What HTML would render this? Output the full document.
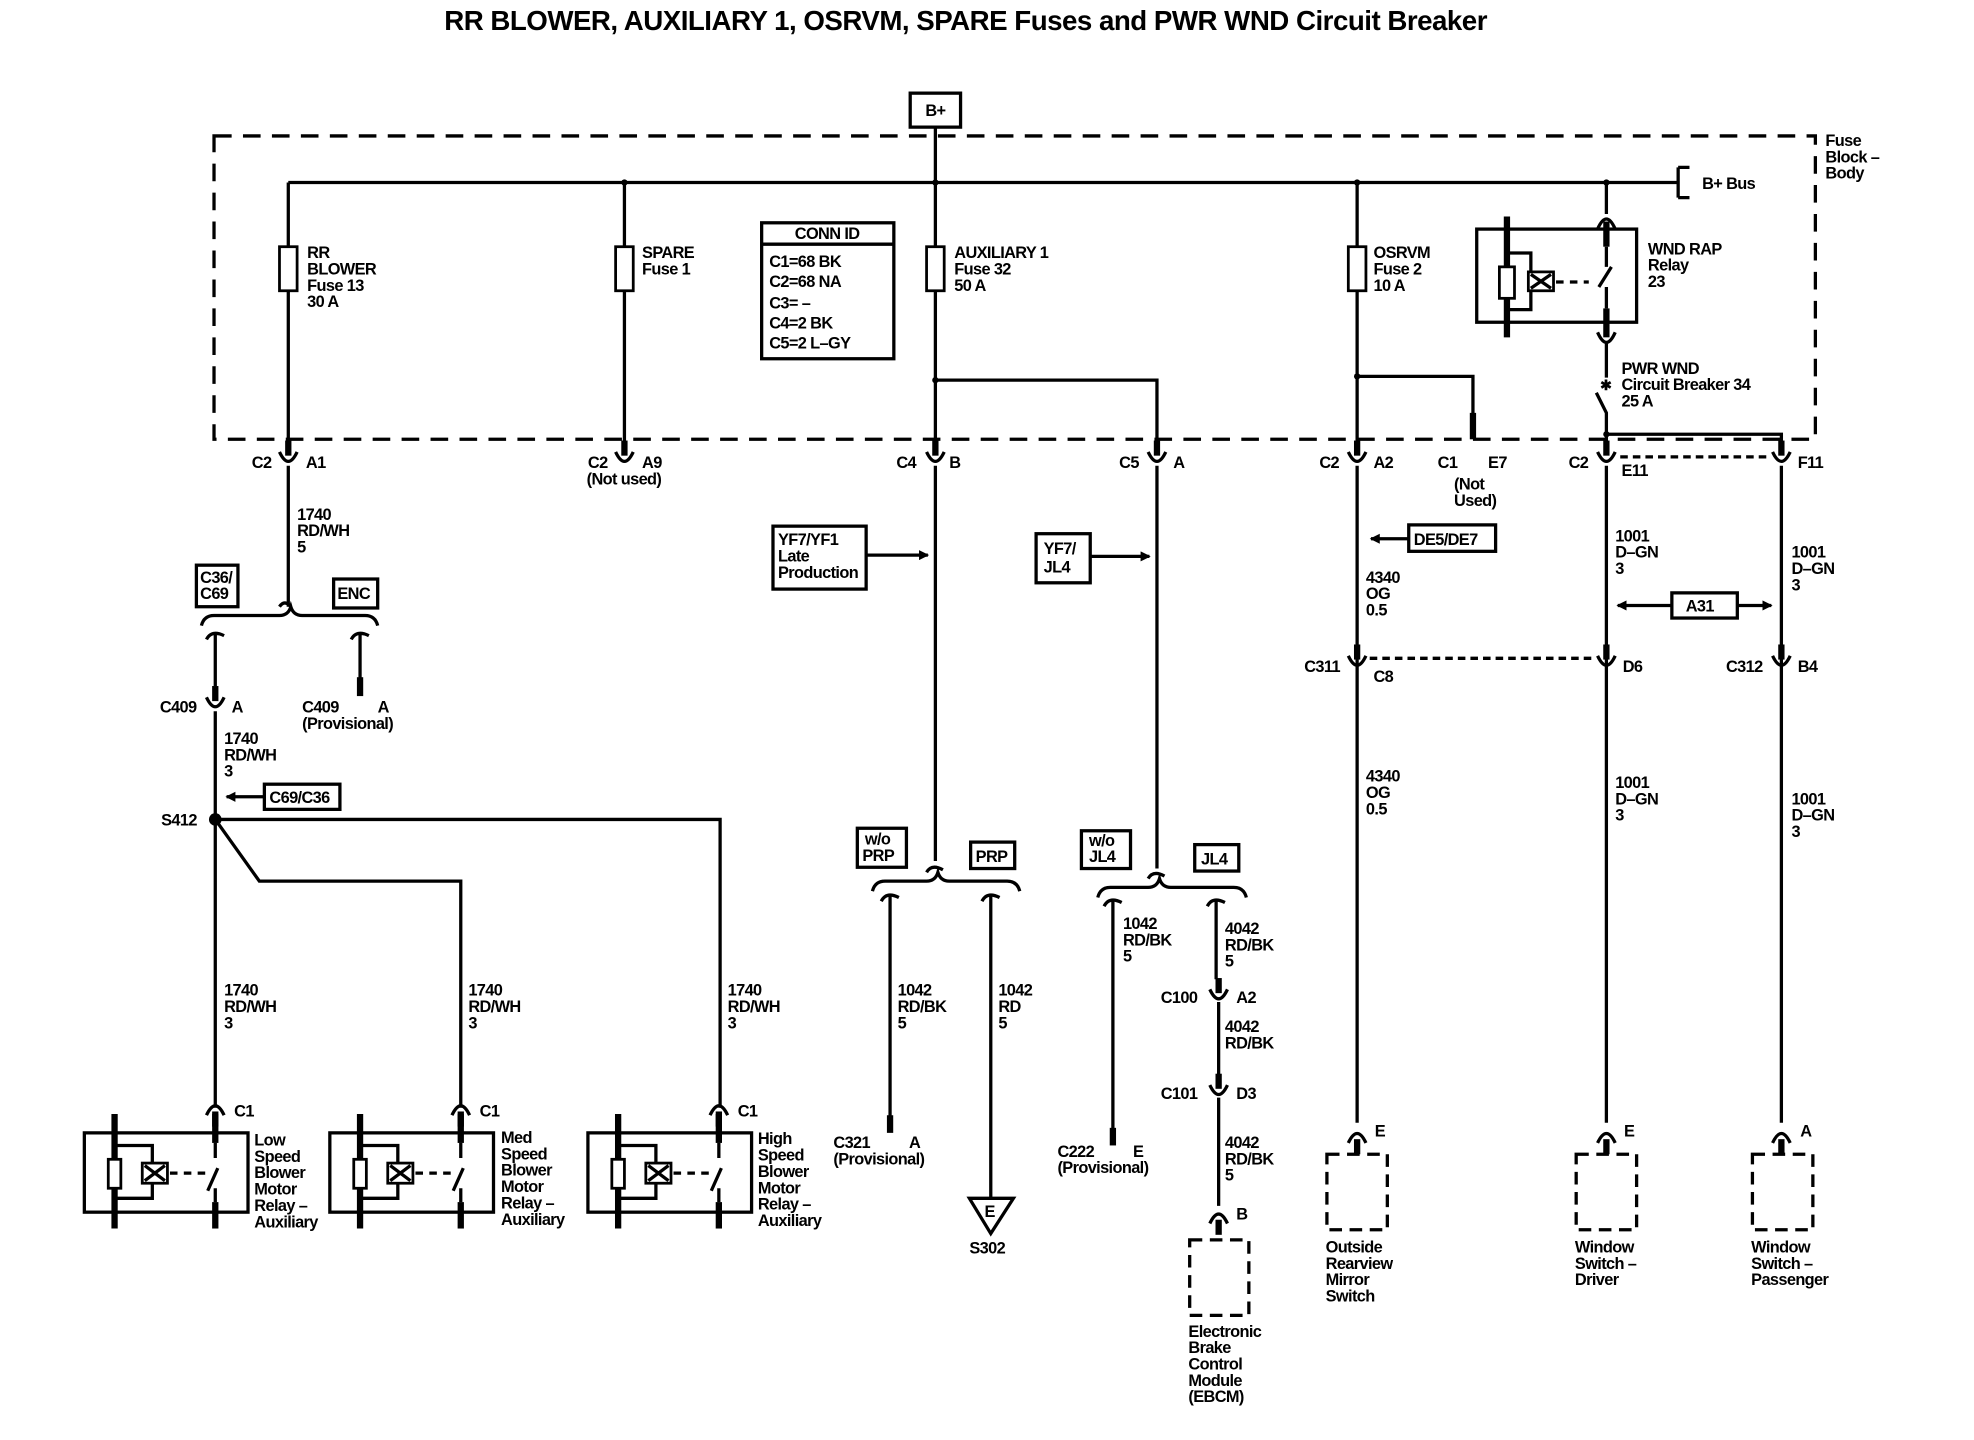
<!DOCTYPE html>
<html><head><meta charset="utf-8"><style>
html,body{margin:0;padding:0;background:#fff;}
svg{display:block;}
text{font-family:"Liberation Sans",Arial,sans-serif;font-size:13px;font-weight:bold;letter-spacing:-0.5px;fill:#000;}
.w{stroke:#000;stroke-width:2.6;fill:none;}
.th{stroke:#000;stroke-width:5;fill:none;}
.b{stroke:#000;stroke-width:2.2;fill:#fff;}
</style></head><body>
<svg width="1974" height="1440" viewBox="0 0 1568 1144" preserveAspectRatio="none" xmlns="http://www.w3.org/2000/svg">
<defs>
<g id="cu"><line x1="0" y1="-15" x2="0" y2="-3" class="th"/><path d="M-7,-6 Q0,9 7,-6" class="w"/></g>
<g id="ca"><line x1="0" y1="3" x2="0" y2="15" class="th"/><path d="M-7,6 Q0,-9 7,6" class="w"/></g>
<marker id="ar" markerWidth="8" markerHeight="8" refX="7" refY="4" orient="auto" markerUnits="userSpaceOnUse"><path d="M0,0 L8,4 L0,8 z" fill="#000"/></marker>
<g id="rl">
<rect x="0" y="0" width="130" height="63" class="w"/>
<line x1="24" y1="-15" x2="24" y2="76" class="th"/>
<line x1="104" y1="-15" x2="104" y2="8" class="th"/>
<line x1="104" y1="55" x2="104" y2="76" class="th"/>
<rect x="19" y="21" width="10" height="23" class="b"/>
<path d="M24,10 H54 V52 H24" class="w"/>
<rect x="46" y="24" width="20" height="16" class="b"/>
<path d="M48,26 L64,38 M48,38 L64,26" class="w" stroke-width="2"/>
<path d="M68,32 H96" class="w" stroke-dasharray="6,5"/>
<path d="M104,8 V20 M104,44 V55 M98,46 L106,28" class="w"/>
</g>
</defs>
<rect width="1568" height="1144" fill="#fff"/>
<text x="767" y="24" text-anchor="middle" style="font-size:22px;letter-spacing:-0.4px">RR BLOWER, AUXILIARY 1, OSRVM, SPARE Fuses and PWR WND Circuit Breaker</text>

<rect x="723" y="74" width="40" height="27" class="w" stroke-width="3.5"/>
<text x="743" y="92" text-anchor="middle">B+</text>
<rect x="170" y="108" width="1272" height="241" class="w" stroke-dasharray="14,9"/>
<text x="1450" y="116">Fuse</text><text x="1450" y="129">Block –</text><text x="1450" y="142">Body</text>

<path d="M229,145 H1333 M743,101 V360 M1333,133 V157 M1333,133 H1342 M1333,157 H1342" class="w"/>
<text x="1352" y="150">B+ Bus</text>
<g fill="#000"><circle cx="496" cy="145" r="2.5"/><circle cx="743" cy="145" r="2.5"/><circle cx="1078" cy="145" r="2.5"/><circle cx="1276" cy="145" r="2.5"/><circle cx="743" cy="302" r="2.5"/><circle cx="1078" cy="299" r="2.5"/><circle cx="1276" cy="345" r="2.5"/><circle cx="171" cy="651" r="5"/></g>

<path d="M229,145 V360 M496,145 V360 M1078,145 V360 M743,302 H919 V360 M1078,299 H1170 V330" class="w"/>
<line x1="1170" y1="328" x2="1170" y2="349" class="th"/>
<rect x="222" y="196" width="14" height="35" class="b"/>
<rect x="489" y="196" width="14" height="35" class="b"/>
<rect x="736" y="196" width="14" height="35" class="b"/>
<rect x="1071" y="196" width="14" height="35" class="b"/>
<text x="244" y="205">RR</text><text x="244" y="218">BLOWER</text><text x="244" y="231">Fuse 13</text><text x="244" y="244">30 A</text>
<text x="510" y="205">SPARE</text><text x="510" y="218">Fuse 1</text>
<text x="758" y="205">AUXILIARY 1</text><text x="758" y="218">Fuse 32</text><text x="758" y="231">50 A</text>
<text x="1091" y="205">OSRVM</text><text x="1091" y="218">Fuse 2</text><text x="1091" y="231">10 A</text>

<rect x="605" y="177" width="105" height="108" class="w"/>
<line x1="605" y1="194" x2="710" y2="194" class="w"/>
<text x="657" y="190" text-anchor="middle">CONN ID</text>
<text x="611" y="212">C1=68 BK</text><text x="611" y="228">C2=68 NA</text><text x="611" y="245">C3= –</text><text x="611" y="261">C4=2 BK</text><text x="611" y="277">C5=2 L–GY</text>

<rect x="1173" y="182" width="127" height="74" class="w"/>
<line x1="1197" y1="172" x2="1197" y2="268" class="th"/>
<rect x="1191" y="212" width="12" height="25" class="b"/>
<path d="M1197,201 H1216 V246 H1197" class="w"/>
<rect x="1214" y="216" width="20" height="15" class="b"/>
<path d="M1216,218 L1232,229 M1216,229 L1232,218" class="w" stroke-width="2"/>
<path d="M1236,224 H1262" class="w" stroke-dasharray="6,5"/>
<path d="M1276,145 V170 M1269,182 Q1276,166 1283,182" class="w"/>
<line x1="1276" y1="176" x2="1276" y2="196" class="th"/>
<path d="M1276,196 V212 M1270,228 L1280,212 M1276,228 V245" class="w"/>
<line x1="1276" y1="245" x2="1276" y2="268" class="th"/>
<text x="1309" y="202">WND RAP</text><text x="1309" y="215">Relay</text><text x="1309" y="228">23</text>
<path d="M1269,264 Q1276,280 1283,264 M1276,272 V300 M1268,312 L1276,328 V360 M1276,345 H1415 V360" class="w"/>
<text x="1271" y="310" style="font-size:11px">✱</text>
<text x="1288" y="297">PWR WND</text><text x="1288" y="310">Circuit Breaker 34</text><text x="1288" y="323">25 A</text>
<path d="M1287,363 H1406" class="w" stroke-width="3" stroke-dasharray="6,4"/>

<use href="#cu" x="229" y="365"/><use href="#cu" x="496" y="365"/><use href="#cu" x="743" y="365"/><use href="#cu" x="919" y="365"/><use href="#cu" x="1078" y="365"/><use href="#cu" x="1276" y="365"/><use href="#cu" x="1415" y="365"/>
<text x="200" y="372">C2</text><text x="243" y="372">A1</text>
<text x="467" y="372">C2</text><text x="510" y="372">A9</text><text x="466" y="385">(Not used)</text>
<text x="712" y="372">C4</text><text x="754" y="372">B</text>
<text x="889" y="372">C5</text><text x="932" y="372">A</text>
<text x="1048" y="372">C2</text><text x="1091" y="372">A2</text>
<text x="1142" y="372">C1</text><text x="1182" y="372">E7</text><text x="1155" y="389">(Not</text><text x="1155" y="402">Used)</text>
<text x="1246" y="372">C2</text><text x="1288" y="378">E11</text>
<text x="1428" y="372">F11</text>

<path d="M229,370 V482 M160,497 Q162,489 170,489 H222 Q229,489 231,482 Q233,489 240,489 H290 Q298,489 300,497" class="w"/>
<path d="M222,482 Q226,476 231,482" class="w"/>
<text x="236" y="413">1740</text><text x="236" y="426">RD/WH</text><text x="236" y="439">5</text>
<rect x="156" y="449" width="33" height="33" class="w"/><text x="159" y="463">C36/</text><text x="159" y="476">C69</text>
<rect x="265" y="460" width="35" height="23" class="w"/><text x="268" y="476">ENC</text>
<path d="M164,508 Q168,500 178,505 M279,508 Q283,500 293,505 M171,504 V545 M286,504 V540" class="w"/>
<line x1="286" y1="538" x2="286" y2="553" class="th"/>
<use href="#cu" x="171" y="560"/>
<text x="127" y="566">C409</text><text x="184" y="566">A</text>
<text x="240" y="566">C409</text><text x="300" y="566">A</text><text x="240" y="579">(Provisional)</text>
<path d="M171,565 V880 M171,651 H572 V880 M171,651 L206,700 H366 V880" class="w"/>
<text x="178" y="591">1740</text><text x="178" y="604">RD/WH</text><text x="178" y="617">3</text>
<rect x="210" y="623" width="60" height="20" class="w"/><text x="214" y="638">C69/C36</text>
<line x1="210" y1="633" x2="180" y2="633" class="w" marker-end="url(#ar)"/>
<text x="128" y="656">S412</text>
<text x="178" y="791">1740</text><text x="178" y="804">RD/WH</text><text x="178" y="817">3</text>
<text x="372" y="791">1740</text><text x="372" y="804">RD/WH</text><text x="372" y="817">3</text>
<text x="578" y="791">1740</text><text x="578" y="804">RD/WH</text><text x="578" y="817">3</text>
<use href="#ca" x="171" y="880"/><use href="#ca" x="366" y="880"/><use href="#ca" x="571" y="880"/>
<text x="186" y="887">C1</text><text x="381" y="887">C1</text><text x="586" y="887">C1</text>
<use href="#rl" x="67" y="900"/><use href="#rl" x="262" y="900"/><use href="#rl" x="467" y="900"/>
<text x="202" y="910">Low</text><text x="202" y="923">Speed</text><text x="202" y="936">Blower</text><text x="202" y="949">Motor</text><text x="202" y="962">Relay –</text><text x="202" y="975">Auxiliary</text>
<text x="398" y="908">Med</text><text x="398" y="921">Speed</text><text x="398" y="934">Blower</text><text x="398" y="947">Motor</text><text x="398" y="960">Relay –</text><text x="398" y="973">Auxiliary</text>
<text x="602" y="909">High</text><text x="602" y="922">Speed</text><text x="602" y="935">Blower</text><text x="602" y="948">Motor</text><text x="602" y="961">Relay –</text><text x="602" y="974">Auxiliary</text>

<path d="M743,370 V684 M693,708 Q695,700 703,700 H736 Q743,700 745,693 Q747,700 754,700 H800 Q808,700 810,708 M736,693 Q740,686 749,691" class="w"/>
<rect x="614" y="418" width="74" height="50" class="w"/><text x="618" y="433">YF7/YF1</text><text x="618" y="446">Late</text><text x="618" y="459">Production</text>
<line x1="688" y1="441" x2="737" y2="441" class="w" marker-end="url(#ar)"/>
<rect x="681" y="658" width="39" height="31" class="w"/><text x="687" y="671">w/o</text><text x="685" y="684">PRP</text>
<rect x="771" y="669" width="35" height="21" class="w"/><text x="775" y="685">PRP</text>
<path d="M700,716 Q704,708 714,713 M780,716 Q784,708 794,713 M707,712 V888 M787,712 V952" class="w"/>
<line x1="707" y1="886" x2="707" y2="900" class="th"/>
<text x="713" y="791">1042</text><text x="713" y="804">RD/BK</text><text x="713" y="817">5</text>
<text x="793" y="791">1042</text><text x="793" y="804">RD</text><text x="793" y="817">5</text>
<text x="662" y="912">C321</text><text x="722" y="912">A</text><text x="662" y="925">(Provisional)</text>
<path d="M770,952 H805 L787,980 Z" class="w"/><text x="782" y="967">E</text>
<text x="770" y="996">S302</text>

<path d="M919,370 V690 M872,713 Q874,705 882,705 H912 Q919,705 921,698 Q923,705 930,705 H980 Q988,705 990,713 M912,698 Q916,691 925,696" class="w"/>
<rect x="823" y="424" width="43" height="39" class="w"/><text x="829" y="440">YF7/</text><text x="829" y="455">JL4</text>
<line x1="866" y1="442" x2="913" y2="442" class="w" marker-end="url(#ar)"/>
<rect x="859" y="660" width="39" height="30" class="w"/><text x="865" y="672">w/o</text><text x="865" y="685">JL4</text>
<rect x="949" y="671" width="35" height="21" class="w"/><text x="954" y="687">JL4</text>
<path d="M877,720 Q881,712 891,717 M959,720 Q963,712 973,717 M884,716 V898 M966,716 V778" class="w"/>
<line x1="884" y1="896" x2="884" y2="910" class="th"/>
<text x="892" y="738">1042</text><text x="892" y="751">RD/BK</text><text x="892" y="764">5</text>
<text x="973" y="742">4042</text><text x="973" y="755">RD/BK</text><text x="973" y="768">5</text>
<use href="#cu" x="968" y="792"/><text x="922" y="797">C100</text><text x="982" y="797">A2</text>
<path d="M968,796 V856" class="w"/>
<text x="973" y="820">4042</text><text x="973" y="833">RD/BK</text>
<use href="#cu" x="968" y="868"/><text x="922" y="873">C101</text><text x="982" y="873">D3</text>
<path d="M968,872 V958" class="w"/>
<text x="973" y="912">4042</text><text x="973" y="925">RD/BK</text><text x="973" y="938">5</text>
<text x="840" y="919">C222</text><text x="900" y="919">E</text><text x="840" y="932">(Provisional)</text>
<use href="#ca" x="968" y="966"/><text x="982" y="969">B</text>
<rect x="945" y="985" width="47" height="60" class="w" stroke-dasharray="10,6"/>
<text x="944" y="1062">Electronic</text><text x="944" y="1075">Brake</text><text x="944" y="1088">Control</text><text x="944" y="1101">Module</text><text x="944" y="1114">(EBCM)</text>

<path d="M1078,370 V892 M1276,370 V892 M1415,370 V892" class="w"/>
<path d="M1088,523 H1268" class="w" stroke-width="3" stroke-dasharray="6,4"/>
<rect x="1119" y="417" width="69" height="21" class="w"/><text x="1123" y="433">DE5/DE7</text>
<line x1="1119" y1="428" x2="1089" y2="428" class="w" marker-end="url(#ar)"/>
<text x="1085" y="463">4340</text><text x="1085" y="476">OG</text><text x="1085" y="489">0.5</text>
<text x="1283" y="430">1001</text><text x="1283" y="443">D–GN</text><text x="1283" y="456">3</text>
<text x="1423" y="443">1001</text><text x="1423" y="456">D–GN</text><text x="1423" y="469">3</text>
<rect x="1328" y="471" width="52" height="20" class="w"/><text x="1339" y="486">A31</text>
<line x1="1328" y1="481" x2="1285" y2="481" class="w" marker-end="url(#ar)"/>
<line x1="1380" y1="481" x2="1407" y2="481" class="w" marker-end="url(#ar)"/>
<use href="#cu" x="1078" y="527"/><use href="#cu" x="1276" y="527"/><use href="#cu" x="1415" y="527"/>
<text x="1036" y="534">C311</text><text x="1091" y="542">C8</text>
<text x="1289" y="534">D6</text>
<text x="1371" y="534">C312</text><text x="1428" y="534">B4</text>
<text x="1085" y="621">4340</text><text x="1085" y="634">OG</text><text x="1085" y="647">0.5</text>
<text x="1283" y="626">1001</text><text x="1283" y="639">D–GN</text><text x="1283" y="652">3</text>
<text x="1423" y="639">1001</text><text x="1423" y="652">D–GN</text><text x="1423" y="665">3</text>
<use href="#ca" x="1078" y="902"/><use href="#ca" x="1276" y="902"/><use href="#ca" x="1415" y="902"/>
<text x="1092" y="903">E</text><text x="1290" y="903">E</text><text x="1430" y="903">A</text>
<rect x="1054" y="917" width="48" height="60" class="w" stroke-dasharray="10,6"/>
<rect x="1252" y="917" width="48" height="60" class="w" stroke-dasharray="10,6"/>
<rect x="1392" y="917" width="48" height="60" class="w" stroke-dasharray="10,6"/>
<text x="1053" y="995">Outside</text><text x="1053" y="1008">Rearview</text><text x="1053" y="1021">Mirror</text><text x="1053" y="1034">Switch</text>
<text x="1251" y="995">Window</text><text x="1251" y="1008">Switch –</text><text x="1251" y="1021">Driver</text>
<text x="1391" y="995">Window</text><text x="1391" y="1008">Switch –</text><text x="1391" y="1021">Passenger</text>
</svg>
</body></html>
